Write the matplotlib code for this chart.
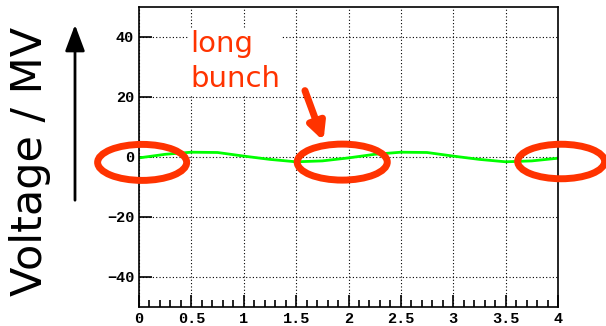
import numpy as np
import matplotlib
matplotlib.use('Agg')
import matplotlib.pyplot as plt
from matplotlib.patches import Ellipse
from matplotlib.ticker import MultipleLocator

# bunch voltage (MV) vs position
pos = [0, 0.25, 0.5, 0.75, 1.0, 1.25, 1.5, 1.75, 2.0,
       2.25, 2.5, 2.75, 3.0, 3.25, 3.5, 3.75, 4.0]
voltage = [-0.3, 0.9, 1.6, 1.5, 0.3, -0.8, -1.6, -1.3, -0.3,
           0.9, 1.6, 1.5, 0.3, -0.8, -1.6, -1.3, -0.4]

x_ticks = [0, 0.5, 1, 1.5, 2, 2.5, 3, 3.5, 4]
x_labels = ['0', '0.5', '1', '1.5', '2', '2.5', '3', '3.5', '4']
y_ticks = [-40, -20, 0, 20, 40]

# circled spots (centre x, centre y, width, height)
circles = [(0.03, -1.8, 0.85, 12), (1.94, -1.7, 0.86, 12), (4.03, -1.5, 0.83, 11.5)]

red = '#ff3300'

fig = plt.figure(figsize=(6.06, 3.26), dpi=100)
ax = fig.add_axes([139/606, 19/326, 419/606, 300/326])

ax.plot(pos, voltage, color='#00ff00', lw=2)

ax.set_xlim(0, 4)
ax.set_ylim(-50, 50)
ax.set_xticks(x_ticks)
ax.set_xticklabels(x_labels)
ax.set_yticks(y_ticks)
ax.xaxis.set_minor_locator(MultipleLocator(0.1))
ax.tick_params(which='both', direction='in', top=False, right=False)
ax.tick_params(which='major', length=9, width=1.2)
ax.tick_params(which='minor', length=5, width=1.2)
ax.tick_params(axis='y', which='minor', left=False)
for lab in ax.get_xticklabels() + ax.get_yticklabels():
    lab.set_family('Liberation Mono')
    lab.set_weight('bold')
    lab.set_size(11)
ax.grid(True, which='major', color='black', linestyle=(0, (1, 2)), lw=0.8)
for s in ax.spines.values():
    s.set_linewidth(1.2)

for cx, cy, w, h in circles:
    ax.add_patch(Ellipse((cx, cy), w, h, fill=False, ec=red, lw=5,
                         clip_on=False, zorder=5))

ax.text(0.49, 42.5, 'long\nbunch', color=red, fontsize=21, ha='left', va='top',
        linespacing=1.35,
        bbox=dict(facecolor='white', edgecolor='none', pad=1))
ax.annotate('', xy=(1.77, 4.5), xytext=(1.575, 23),
            arrowprops=dict(arrowstyle='-|>,head_width=0.5,head_length=1.0',
                            color=red, lw=5))

fig.text(30/606, 165/326, 'Voltage / MV', rotation=90, fontsize=31,
         ha='center', va='center')
fig.add_artist(matplotlib.patches.FancyArrowPatch(
    (75/606, 123/326), (75/606, 304/326), transform=fig.transFigure,
    arrowstyle='-|>,head_width=0.3,head_length=0.8', color='black', lw=2,
    mutation_scale=20))

fig.savefig('out.png', dpi=100)
